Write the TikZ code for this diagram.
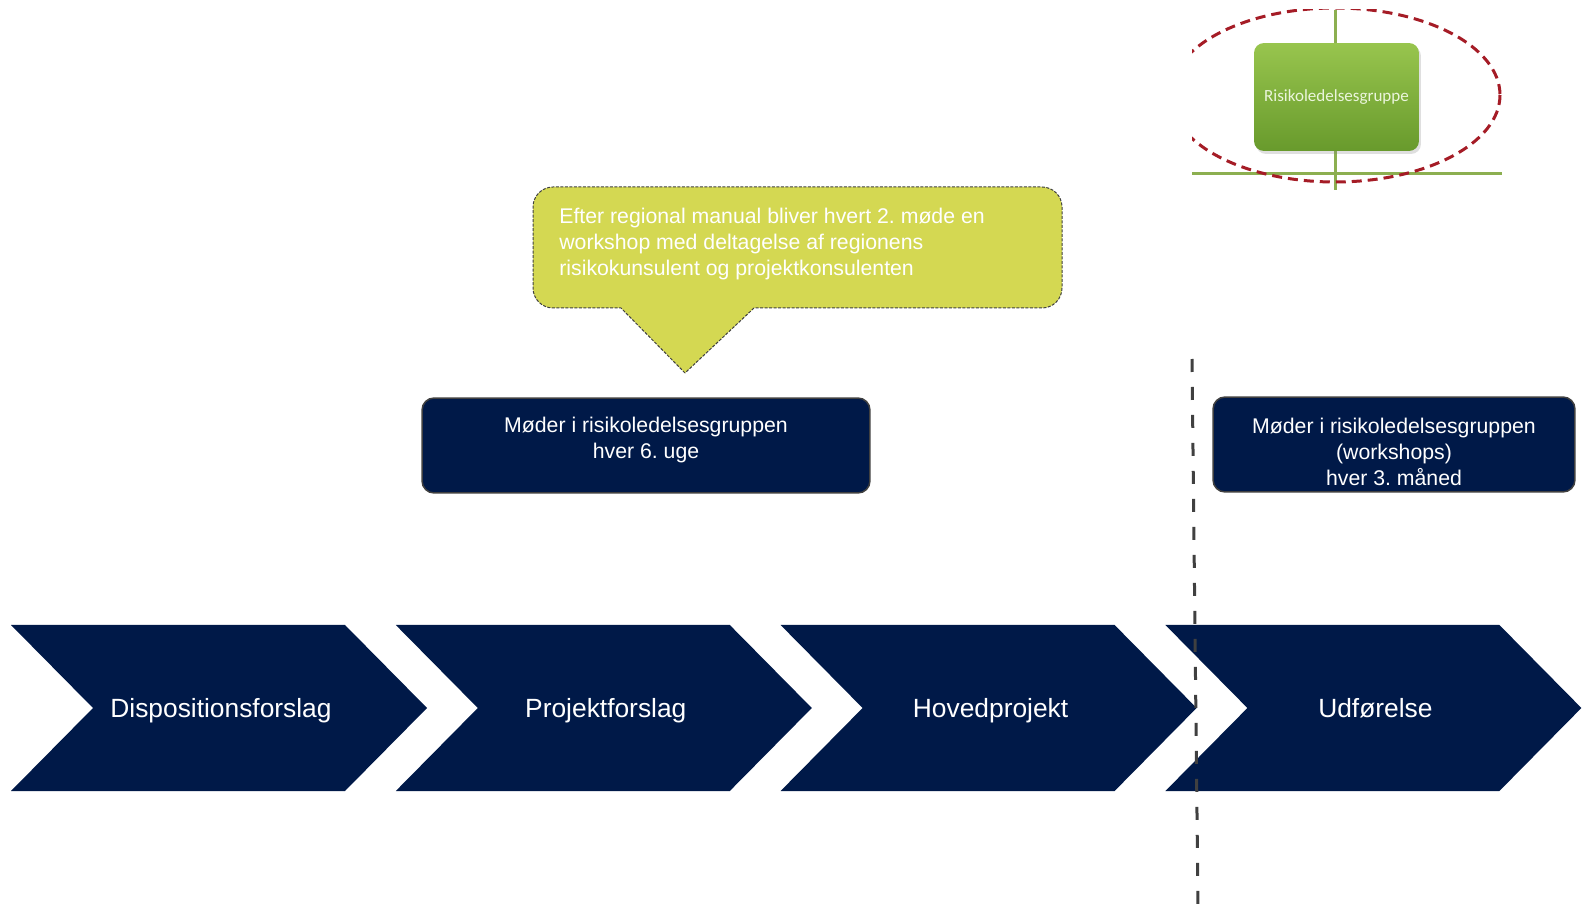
\documentclass[tikz,border=0pt]{standalone}
\usepackage{fontspec}
\setmainfont{Liberation Sans}
\newfontfamily\gruppefont{Carlito}
\usetikzlibrary{shadows}
\frenchspacing

\definecolor{navy}{RGB}{0,25,72}
\definecolor{calloutgreen}{RGB}{212,216,82}
\definecolor{linegreen}{RGB}{140,175,80}
\definecolor{dashred}{RGB}{165,28,38}
\definecolor{dashgray}{RGB}{64,64,64}

\begin{document}
\begin{tikzpicture}[x=0.02cm,y=-0.02cm,
    phase/.style={fill=navy},
    phasetext/.style={text=white,anchor=base,font=\fontsize{15}{18}\selectfont},
    moedebox/.style={draw=dashgray,line width=0.03cm,fill=navy,rounded corners=0.24cm,minimum height=1.9cm},
    boxtext/.style={text=white,align=center,font=\fontsize{12.1}{14.6}\selectfont},
    callout/.style={fill=calloutgreen,draw=dashgray,line width=0.02cm,dash pattern=on 0.06cm off 0.03cm},
    callouttext/.style={text=white,align=left,inner sep=0pt,font=\fontsize{12.1}{14.8}\selectfont},
    groupbox/.style={top color={rgb,255:red,152;green,197;blue,78},bottom color={rgb,255:red,104;green,154;blue,44},
      rounded corners=0.2cm,minimum width=3.3cm,minimum height=2.16cm,text={rgb,255:red,235;green,245;blue,220},
      font=\gruppefont\fontsize{9.7}{11}\selectfont,drop shadow={opacity=0.25,shadow xshift=0.04cm,shadow yshift=-0.06cm}},
    skel/.style={dashgray,line width=0.06cm,dash pattern=on 0.26cm off 0.3cm}]
  \useasboundingbox (0,0) rectangle (1587,905);

  % faser
  \foreach \i/\name/\txt in {0/dispo/Dispositionsforslag,1/projekt/Projektforslag,2/hoved/Hovedprojekt,3/udf/Udførelse}{
    \pgfmathsetmacro{\L}{11+384.8*\i}
    \fill[phase] (\L,625) -- ++(334,0) -- ++(82,83) -- ++(-82,83) -- ++(-334,0) -- ++(82,-83) -- cycle;
    \node[phasetext] (\name) at (\L+210,718) {\txt};
  }

  % moeder
  \node[moedebox,minimum width=8.96cm] (moede1) at (646,445.5) {};
  \node[boxtext] (moede1tekst) at (646,440) {Møder i risikoledelsesgruppen\\hver 6. uge};
  \node[moedebox,minimum width=7.24cm] (moede2) at (1394,444.5) {};
  \node[boxtext] (moede2tekst) at (1394,452) {Møder i risikoledelsesgruppen\\(workshops)\\hver 3. måned};

  % workshop-boble
  \coordinate (spids) at (685,373);
  \draw[callout] (spids) -- (621,308) [rounded corners=0.4cm] -- (533,308) -- (533,187) -- (1062,187) -- (1062,308) [sharp corners] -- (754,308) -- cycle;
  \node[callouttext,anchor=north west] (workshoptekst) at (559,208)
    {Efter regional manual bliver hvert 2. møde en\\workshop med deltagelse af regionens\\risikokunsulent og projektkonsulenten};

  % risikoledelsesgruppe
  \begin{scope}
    \clip (1192,10) rectangle (1502,190);
    \draw[linegreen,line width=0.06cm] (1335,10) -- (1335,190);
    \draw[linegreen,line width=0.06cm] (1192,174) -- (1502,174);
    \node[groupbox] (gruppe) at (1336.5,97) {Risikoledelsesgruppe};
    \draw[dashred,line width=0.06cm,dash pattern=on 0.2cm off 0.12cm] (1335,95) ellipse [x radius=165,y radius=87];
  \end{scope}

  % skel mellem projektering og udfoerelse
  \coordinate (skeltop) at (1192,359);
  \coordinate (skelbund) at (1198,905);
  \draw[skel] (skeltop) -- (skelbund);
\end{tikzpicture}
\end{document}
